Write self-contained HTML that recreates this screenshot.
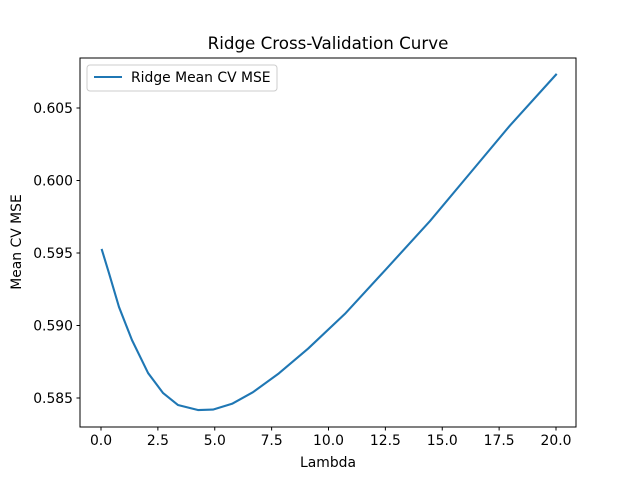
<!DOCTYPE html>
<html><head><meta charset="utf-8"><style>
body{margin:0;background:#fff}
svg text{font-family:"DejaVu Sans","Liberation Sans",sans-serif;fill:#000}
</style></head><body>
<svg id="chart" width="640" height="480" viewBox="0 0 640 480" xmlns="http://www.w3.org/2000/svg">
<rect width="640" height="480" fill="#fff"/>
<text x="328" y="49" font-size="16.7" text-anchor="middle">Ridge Cross-Validation Curve</text>
<g id="ticks"></g>
<path id="line" fill="none" stroke="#1f77b4" stroke-width="2.1" stroke-linejoin="round" stroke-linecap="square"/>
<rect x="80" y="58" width="496" height="369" fill="none" stroke="#000" stroke-width="1"/>
<text x="328" y="467" font-size="13.9" text-anchor="middle">Lambda</text>
<text transform="translate(21,242) rotate(-90)" font-size="13.9" text-anchor="middle">Mean CV MSE</text>
<g>
<rect x="87" y="65" width="190" height="26" rx="3" fill="#fff" stroke="#ccc" stroke-width="1"/>
<line x1="94" y1="77" x2="122" y2="77" stroke="#1f77b4" stroke-width="2.1"/>
<text x="131" y="82" font-size="13.9">Ridge Mean CV MSE</text>
</g>
</svg>
<script>
const lambdas=[0.04,0.35,0.79,1.36,2.07,2.73,3.38,4.26,4.92,5.76,6.68,7.82,9.1,10.72,12.48,14.46,16.22,17.98,20.0];
const mse=[0.59521,0.59362,0.59128,0.5890,0.58672,0.58534,0.58452,0.58417,0.5842,0.5846,0.5854,0.5867,0.5884,0.5908,0.5938,0.5972,0.6005,0.6038,0.6073];
const xTicks=[0,2.5,5,7.5,10,12.5,15,17.5,20];
const xTickLabels=["0.0","2.5","5.0","7.5","10.0","12.5","15.0","17.5","20.0"];
const yTicks=[0.585,0.590,0.595,0.600,0.605];
const yTickLabels=["0.585","0.590","0.595","0.600","0.605"];
const X=v=>101+v*22.75;
const Y=v=>398-(v-0.585)*14500;
const NS="http://www.w3.org/2000/svg";
const g=document.getElementById('ticks');
function mk(tag,attrs){const e=document.createElementNS(NS,tag);for(const k in attrs)e.setAttribute(k,attrs[k]);return e;}
xTicks.forEach((t,i)=>{
  const l=mk('line',{x1:X(t),x2:X(t),y1:427,y2:430.5,stroke:'#000'});
  
  
  g.appendChild(l);
  const tx=mk('text',{x:X(t),y:445,'font-size':'13.9','text-anchor':'middle'});
  
  
  tx.textContent=xTickLabels[i];g.appendChild(tx);
});
yTicks.forEach((t,i)=>{
  const l=mk('line',{x1:76.5,x2:80,y1:Y(t),y2:Y(t),stroke:'#000'});
  
  
  g.appendChild(l);
  const tx=mk('text',{x:73,y:Y(t)+5,'font-size':'13.9','text-anchor':'end'});
  
  
  tx.textContent=yTickLabels[i];g.appendChild(tx);
});
document.getElementById('line').setAttribute('d',lambdas.map((v,i)=>(i?'L':'M')+X(v).toFixed(2)+' '+Y(mse[i]).toFixed(2)).join(' '));
</script>
</body></html>
